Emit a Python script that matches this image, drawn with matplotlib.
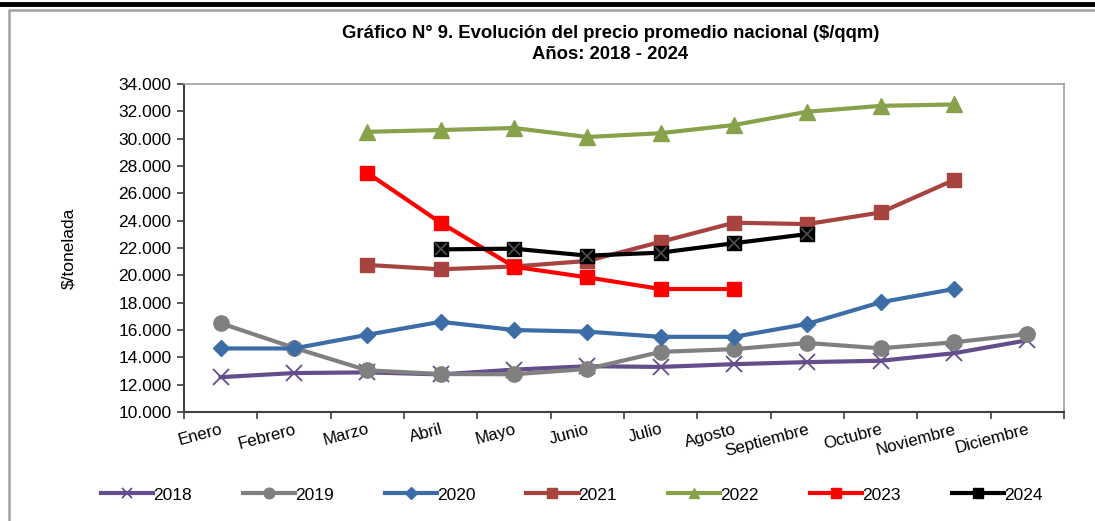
import numpy as np
import matplotlib.pyplot as plt
from matplotlib.lines import Line2D

plt.rcParams['font.family'] = ['Liberation Sans', 'DejaVu Sans']

# Data ($/tonelada), NaN = no data
meses = ['Enero', 'Febrero', 'Marzo', 'Abril', 'Mayo', 'Junio', 'Julio',
         'Agosto', 'Septiembre', 'Octubre', 'Noviembre', 'Diciembre']
nan = np.nan
p2018 = [12550, 12850, 12900, 12750, 13100, 13350, 13300, 13500, 13650, 13750, 14300, 15250]
p2019 = [16500, 14700, 13050, 12780, 12760, 13150, 14400, 14600, 15050, 14660, 15100, 15700]
p2020 = [14650, 14650, 15650, 16600, 16000, 15880, 15500, 15500, 16450, 18030, 19000, nan]
p2021 = [nan, nan, 20760, 20440, 20650, 21050, 22450, 23850, 23750, 24600, 26980, nan]
p2022 = [nan, nan, 30500, 30630, 30780, 30120, 30400, 31000, 31970, 32400, 32500, nan]
p2023 = [nan, nan, 27500, 23850, 20630, 19850, 19000, 19000, nan, nan, nan, nan]
p2024 = [nan, nan, nan, 21900, 21950, 21440, 21660, 22350, 23020, nan, nan, nan]

x = np.arange(len(meses))

fig = plt.figure(figsize=(10.95, 5.21), dpi=100)

# outer frame
fig.add_artist(Line2D([0, 1], [1 - 4 / 521, 1 - 4 / 521], color='black', lw=3.5,
                      transform=fig.transFigure))
fig.add_artist(Line2D([9 / 1095, 9 / 1095, 1.0], [0, 1 - 10 / 521, 1 - 10 / 521],
                      color='#a0a0a0', lw=1.8, transform=fig.transFigure))

ax = fig.add_axes([0.168, 0.2092, 0.8037, 0.6296])

ax.plot(x, p2018, color='#644d8a', lw=3, marker='x', ms=11, mew=1.3, label='2018')
ax.plot(x, p2019, color='#808080', lw=3, marker='o', ms=11, label='2019')
ax.plot(x, p2020, color='#3d6da6', lw=3, marker='D', ms=8.5, label='2020')
ax.plot(x, p2021, color='#a84440', lw=3, marker='s', ms=10.5, label='2021')
ax.plot(x, p2022, color='#87a24b', lw=3, marker='^', ms=11, label='2022')
ax.plot(x, p2023, color='#ff0000', lw=3, marker='s', ms=10.5, label='2023')
ax.plot(x, p2024, color='black', lw=3, marker='s', ms=10.5, label='2024')
ax.plot(x, p2024, color='#505050', lw=0, marker='x', ms=9, mew=1.2)

ax.set_xlim(-0.5, len(meses) - 0.5)
ax.set_ylim(10000, 34000)
ax.set_yticks(np.arange(10000, 34001, 2000))
ax.set_yticklabels([f'{v:,}'.replace(',', '.') for v in range(10000, 34001, 2000)])

ax.set_xticks(np.arange(-0.5, len(meses)), labels=[])
ax.set_xticks(x, minor=True)
ax.set_xticklabels(meses, minor=True, rotation=15, ha='right', va='top',
                   rotation_mode='anchor', fontsize=12.2)
ax.tick_params(axis='x', which='minor', length=0, pad=7)
ax.tick_params(axis='x', which='major', length=5, width=1.2, color='#404040', direction='out')
ax.tick_params(axis='y', length=5, width=1.2, color='#404040', labelsize=12.5, pad=4)

for s in ['left', 'bottom']:
    ax.spines[s].set_color('#404040')
    ax.spines[s].set_linewidth(1.5)
for s in ['top', 'right']:
    ax.spines[s].set_color('#a0a0a0')
    ax.spines[s].set_linewidth(1.2)

ax.set_ylabel('$/tonelada', fontsize=12.5, labelpad=30)

fig.text(0.5575, 0.935, 'Gráfico N° 9. Evolución del precio promedio nacional ($/qqm)',
         ha='center', va='center', fontsize=13.3, fontweight='bold')
fig.text(0.5575, 0.895, 'Años: 2018 - 2024', ha='center', va='center',
         fontsize=13.3, fontweight='bold')

fig.legend(loc='center', bbox_to_anchor=(0.522, 0.05), ncol=7, frameon=False,
           fontsize=12.5, handlelength=3.0, columnspacing=2.95, handletextpad=0.0,
           markerscale=0.7)

fig.savefig('out.png', dpi=100)
